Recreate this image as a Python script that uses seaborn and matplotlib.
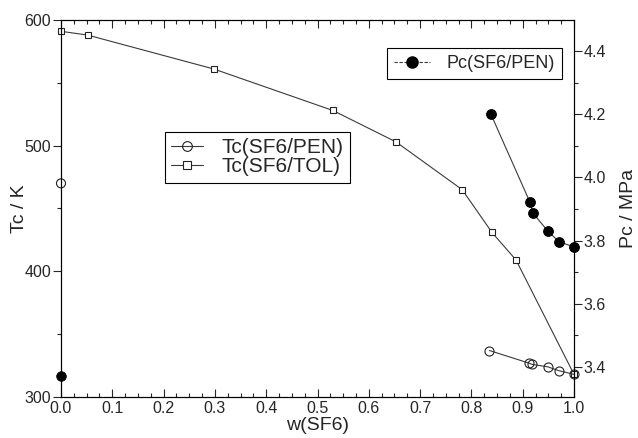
import matplotlib
matplotlib.use("Agg")
import matplotlib.pyplot as plt
import seaborn as sns
import pandas as pd
from matplotlib.ticker import MultipleLocator
from matplotlib.lines import Line2D

sns.set_style("ticks")
plt.rcParams['font.family'] = ['Liberation Sans', 'DejaVu Sans']

# Tc(SF6/TOL)
w_tol = [0.0, 0.052, 0.298, 0.530, 0.653, 0.782, 0.840, 0.887, 1.0]
tc_tol = [591, 588, 561, 528, 503, 465, 431, 409, 318]

# Tc(SF6/PEN)
w_pen = [0.0, 0.835, 0.912, 0.918, 0.949, 0.970, 1.0]
tc_pen = [470, 337, 327, 326, 324, 321, 318]

# Pc(SF6/PEN)
w_pc = [0.0, 0.838, 0.914, 0.920, 0.949, 0.971, 1.0]
pc_pen = [3.372, 4.20, 3.922, 3.887, 3.83, 3.796, 3.78]

df_tol = pd.DataFrame({"w": w_tol, "T": tc_tol})
df_pen = pd.DataFrame({"w": w_pen, "T": tc_pen})
df_pc = pd.DataFrame({"w": w_pc, "P": pc_pen})

fig = plt.figure(figsize=(6.38, 4.38), dpi=100)
ax = fig.add_axes([61/638, 1-397/438, (574-61)/638, (397-20)/438])
ax2 = ax.twinx()

lc = "#3a3a3a"
# TOL: all connected
sns.lineplot(data=df_tol, x="w", y="T", ax=ax, color=lc, lw=0.8, marker="s",
             markersize=4.3, markerfacecolor="white", markeredgecolor="#222222",
             markeredgewidth=0.8, estimator=None, sort=False, clip_on=False)
# PEN Tc: isolated first point + connected rest
sns.lineplot(data=df_pen.iloc[1:], x="w", y="T", ax=ax, color=lc, lw=0.8, marker="o",
             markersize=6.5, markerfacecolor="none", markeredgecolor="#222222",
             markeredgewidth=0.8, estimator=None, sort=False, clip_on=False)
sns.scatterplot(data=df_pen.iloc[:1], x="w", y="T", ax=ax, marker="o", s=42,
                facecolor="none", edgecolor="#222222", linewidth=0.8, zorder=5, clip_on=False)
# Pc
sns.lineplot(data=df_pc.iloc[1:], x="w", y="P", ax=ax2, color=lc, lw=0.8, marker="o",
             markersize=7, markerfacecolor="black", markeredgecolor="black",
             estimator=None, sort=False, clip_on=False)
sns.scatterplot(data=df_pc.iloc[:1], x="w", y="P", ax=ax2, marker="o", s=48,
                color="black", edgecolor="black", zorder=5, clip_on=False)

ax.set_xlim(0, 1.0)
ax.set_ylim(300, 600)
ax2.set_ylim(3.305, 4.498)

ax.xaxis.set_major_locator(MultipleLocator(0.1))
ax.xaxis.set_minor_locator(MultipleLocator(0.025))
ax.yaxis.set_major_locator(MultipleLocator(100))
ax.yaxis.set_minor_locator(MultipleLocator(50))
ax2.yaxis.set_major_locator(MultipleLocator(0.2))
ax2.yaxis.set_minor_locator(MultipleLocator(0.1))

ax.tick_params(axis='x', which='both', direction='in', top=True, bottom=True, labelsize=11.5, pad=3)
ax.tick_params(axis='x', which='major', length=6, width=0.8)
ax.tick_params(axis='x', which='minor', length=3, width=0.8)
ax.tick_params(axis='y', which='major', direction='out', length=6, width=0.8, labelsize=11.5, pad=1)
ax.tick_params(axis='y', which='minor', direction='out', length=3, width=0.8)
ax2.tick_params(axis='y', which='major', direction='out', length=6, width=0.8, labelsize=11.5, pad=1)
ax2.tick_params(axis='y', which='minor', direction='out', length=3, width=0.8)

for a in (ax, ax2):
    for s in a.spines.values():
        s.set_linewidth(0.8)
        s.set_color("black")

ax.set_xlabel("w(SF6)", fontsize=14)
ax.set_ylabel("Tc / K", fontsize=14)
ax2.set_ylabel("Pc / MPa", fontsize=14)
ax.xaxis.set_label_coords(0.5, (397-417)/377)
ax.yaxis.set_label_coords((28-61)/513, 0.5)
ax2.yaxis.set_label_coords((620-61)/513, 0.5)

h1 = Line2D([], [], color=lc, lw=0.8, marker="o", markersize=7,
            markerfacecolor="none", markeredgecolor="#222222", markeredgewidth=0.8)
h2 = Line2D([], [], color=lc, lw=0.8, marker="s", markersize=6,
            markerfacecolor="white", markeredgecolor="#222222", markeredgewidth=0.8)
leg1 = ax.legend([h1, h2], ["Tc(SF6/PEN)", "Tc(SF6/TOL)"], loc="upper left",
                 bbox_to_anchor=((165-61)/513, 1-(132-20)/377), fontsize=15,
                 frameon=True, fancybox=False, edgecolor="black", framealpha=1,
                 borderpad=0.3, handlelength=1.5, labelspacing=0.0,
                 handletextpad=0.9, borderaxespad=0)
leg1.get_frame().set_linewidth(0.8)

h3 = Line2D([], [], color=lc, lw=0.8, marker="o", markersize=8,
            markerfacecolor="black", markeredgecolor="black", linestyle=(0, (3, 1.5)))
leg2 = ax2.legend([h3], ["Pc(SF6/PEN)"], loc="upper left",
                  bbox_to_anchor=((387-61)/513, 1-(48-20)/377), fontsize=13,
                  frameon=True, fancybox=False, edgecolor="black", framealpha=1,
                  borderpad=0.4, handlelength=2.0, handletextpad=0.9, borderaxespad=0)
leg2.get_frame().set_linewidth(0.8)

fig.savefig("out.png", dpi=100)
